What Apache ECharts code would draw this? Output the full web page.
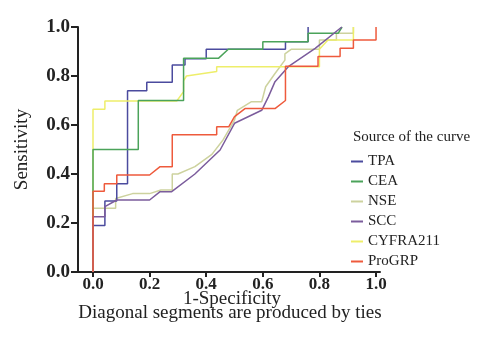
<!DOCTYPE html>
<html><head><meta charset="utf-8">
<script src="https://cdn.jsdelivr.net/npm/echarts@6/dist/echarts.min.js"></script>
<style>html,body{margin:0;padding:0;background:#fff}#c{width:494px;height:353px}</style>
</head><body><div id="c"></div>
<script>
const seriesNames = ["TPA","CEA","NSE","SCC","CYFRA211","ProGRP"];
const xTicks = [0,0.2,0.4,0.6,0.8,1.0];
const tpa = [[0,0],[0,0.19],[0.042,0.19],[0.042,0.29],[0.084,0.29],[0.084,0.36],[0.122,0.36],[0.122,0.74],[0.19,0.74],[0.19,0.775],[0.28,0.775],[0.28,0.845],[0.325,0.845],[0.325,0.87],[0.40,0.87],[0.40,0.909],[0.68,0.909],[0.68,0.94],[0.76,0.94],[0.76,1.0]];
const cea = [[0,0],[0,0.5],[0.16,0.5],[0.16,0.70],[0.32,0.70],[0.32,0.872],[0.443,0.872],[0.478,0.909],[0.60,0.909],[0.60,0.94],[0.76,0.94],[0.76,0.974],[0.866,0.974],[0.88,1.0]];
const nse = [[0,0],[0,0.26],[0.08,0.26],[0.08,0.30],[0.14,0.32],[0.2,0.32],[0.24,0.335],[0.28,0.335],[0.28,0.40],[0.30,0.40],[0.36,0.43],[0.42,0.48],[0.46,0.54],[0.50,0.62],[0.51,0.66],[0.56,0.695],[0.596,0.695],[0.61,0.756],[0.643,0.81],[0.678,0.865],[0.678,0.89],[0.70,0.909],[0.80,0.909],[0.80,0.947],[0.86,0.947],[0.86,0.975],[0.92,0.975],[0.92,1.0]];
const scc = [[0,0],[0,0.226],[0.042,0.226],[0.042,0.267],[0.084,0.294],[0.2,0.294],[0.237,0.328],[0.278,0.328],[0.36,0.40],[0.449,0.498],[0.50,0.607],[0.596,0.66],[0.62,0.716],[0.643,0.777],[0.69,0.838],[0.785,0.913],[0.879,1.0]];
const cyfra = [[0,0],[0,0.664],[0.042,0.664],[0.042,0.698],[0.296,0.698],[0.32,0.736],[0.32,0.78],[0.33,0.80],[0.437,0.818],[0.437,0.838],[0.80,0.838],[0.80,0.909],[0.83,0.947],[0.92,0.947],[0.92,1.0]];
const progrp = [[0,0],[0,0.33],[0.04,0.33],[0.04,0.36],[0.084,0.36],[0.084,0.396],[0.2,0.396],[0.237,0.43],[0.28,0.43],[0.28,0.56],[0.437,0.56],[0.437,0.593],[0.48,0.593],[0.50,0.634],[0.537,0.667],[0.643,0.667],[0.68,0.70],[0.68,0.84],[0.795,0.84],[0.795,0.88],[0.873,0.88],[0.873,0.913],[0.92,0.913],[0.92,0.947],[1.0,0.947],[1.0,1.0]];
const seriesData = [tpa,cea,nse,scc,cyfra,progrp];
const colors = ["#4b4b9e","#4ba35a","#cdd29e","#7b5c9c","#eeee6a","#ee5a3c"];

const serif = "Liberation Serif";
const chart = echarts.init(document.getElementById('c'));
chart.setOption({
  animation:false,
  grid:{left:78,right:114,top:27,bottom:81},
  xAxis:{type:'value',min:-0.053,max:1.014,
    axisLine:{lineStyle:{color:'#222',width:2}},
    axisTick:{customValues:xTicks,length:5,lineStyle:{color:'#222',width:2}},
    axisLabel:{customValues:xTicks,formatter:v=>v.toFixed(1),color:'#222',fontFamily:serif,fontSize:17,fontWeight:'bold',margin:4},
    splitLine:{show:false}},
  yAxis:{type:'value',min:0,max:1,interval:0.2,
    name:'Sensitivity',nameLocation:'middle',nameGap:46,nameRotate:90,
    nameTextStyle:{color:'#222',fontFamily:serif,fontSize:19},
    axisLine:{show:true,onZero:false,lineStyle:{color:'#222',width:2}},
    axisTick:{show:true,length:7,lineStyle:{color:'#222',width:2}},
    axisLabel:{formatter:v=>v.toFixed(1),color:'#222',fontFamily:serif,fontSize:19,fontWeight:'bold',margin:8},
    splitLine:{show:false}},
  legend:{orient:'vertical',left:346,top:149,itemWidth:12,itemHeight:2,itemGap:5,icon:'rect',
    textStyle:{fontFamily:serif,fontSize:15,color:'#222'},data:seriesNames},
  graphic:[
    {type:'text',x:353,y:130,style:{text:'Source of the curve',font:'15px "Liberation Serif"',fill:'#222'}},
    {type:'text',x:232,y:290,style:{text:'1-Specificity',textAlign:'center',font:'19px "Liberation Serif"',fill:'#222'}},
    {type:'text',x:230,y:304,style:{text:'Diagonal segments are produced by ties',textAlign:'center',font:'19px "Liberation Serif"',fill:'#222'}}
  ],
  series:seriesNames.map((n,i)=>({name:n,type:'line',data:seriesData[i],symbol:'none',
    lineStyle:{color:colors[i],width:1.5},itemStyle:{color:colors[i]},z:[2,3,1,4,2,5][i]}))
});
</script></body></html>
